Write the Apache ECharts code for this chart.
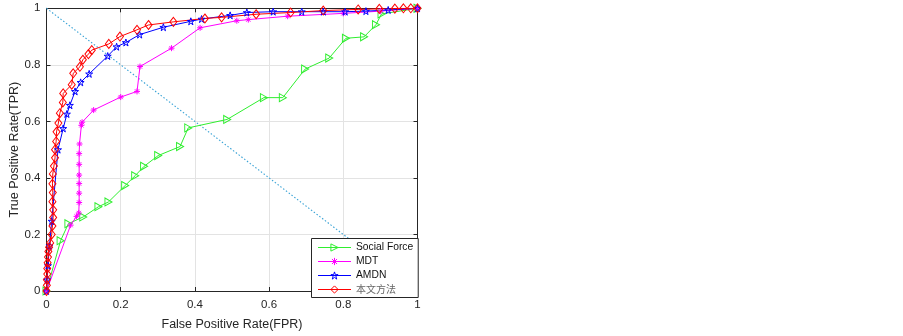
<!DOCTYPE html>
<html>
<head>
<meta charset="utf-8">
<script src="https://cdn.jsdelivr.net/npm/echarts@6/dist/echarts.min.js"></script>
<style>
  html, body { margin: 0; padding: 0; background: #fff; }
  #chart { width: 903px; height: 336px; }
</style>
</head>
<body>
<div id="chart"></div>
<script>
// values
const legendNames = ['Social Force', 'MDT', 'AMDN', '本文方法']
const seriesColors = ['#2fee2f', '#ff00ff', '#0000ff', '#ff0000']

const sfFPR = [0, 0.038, 0.059, 0.099, 0.14, 0.167, 0.212, 0.239, 0.263, 0.301, 0.36, 0.382, 0.487, 0.586, 0.637, 0.697, 0.762, 0.807, 0.856, 0.888, 0.903, 1]
const sfTPR = [0, 0.178, 0.238, 0.262, 0.298, 0.315, 0.373, 0.408, 0.441, 0.479, 0.511, 0.577, 0.607, 0.684, 0.684, 0.785, 0.824, 0.894, 0.899, 0.942, 0.98, 1]

const mdtFPR = [0, 0.065, 0.081, 0.087, 0.088, 0.088, 0.088, 0.088, 0.088, 0.088, 0.089, 0.094, 0.096, 0.127, 0.2, 0.244, 0.252, 0.337, 0.414, 0.513, 0.544, 0.65, 0.8, 0.9, 1]
const mdtTPR = [0, 0.233, 0.264, 0.276, 0.313, 0.346, 0.38, 0.41, 0.448, 0.486, 0.52, 0.586, 0.597, 0.64, 0.686, 0.706, 0.794, 0.859, 0.931, 0.956, 0.96, 0.972, 0.982, 0.99, 1]

const amdnFPR = [0, 0.002, 0.004, 0.008, 0.014, 0.031, 0.045, 0.055, 0.063, 0.077, 0.092, 0.115, 0.165, 0.189, 0.214, 0.251, 0.315, 0.389, 0.418, 0.495, 0.54, 0.611, 0.688, 0.746, 0.805, 0.861, 0.921, 1]
const amdnTPR = [0, 0.04, 0.09, 0.16, 0.247, 0.5, 0.575, 0.626, 0.657, 0.706, 0.738, 0.768, 0.831, 0.864, 0.879, 0.907, 0.933, 0.954, 0.962, 0.975, 0.985, 0.988, 0.988, 0.988, 0.988, 0.99, 0.994, 1]

const oursFPR = [0, 0.001, 0.001, 0.002, 0.002, 0.003, 0.004, 0.005, 0.007, 0.01, 0.014, 0.016, 0.018, 0.018, 0.016, 0.017, 0.016, 0.017, 0.02, 0.023, 0.023, 0.026, 0.027, 0.032, 0.036, 0.044, 0.045, 0.068, 0.072, 0.09, 0.098, 0.113, 0.122, 0.168, 0.198, 0.244, 0.275, 0.342, 0.427, 0.472, 0.565, 0.658, 0.746, 0.84, 0.897, 0.939, 0.962, 0.982, 1]
const oursTPR = [0, 0.02, 0.04, 0.06, 0.08, 0.1, 0.12, 0.14, 0.155, 0.17, 0.2, 0.23, 0.26, 0.287, 0.316, 0.348, 0.379, 0.414, 0.442, 0.471, 0.5, 0.529, 0.563, 0.594, 0.629, 0.667, 0.699, 0.73, 0.77, 0.793, 0.818, 0.838, 0.852, 0.874, 0.9, 0.924, 0.941, 0.952, 0.964, 0.968, 0.979, 0.985, 0.992, 0.996, 0.998, 0.999, 1, 1, 1]

const chanceFPR = [0, 1]
const chanceTPR = [1, 0]

const zip = (xs, ys) => xs.map((x, i) => [x, ys[i]])

const triRight = 'path://M0,0L10,5L0,10Z'
const asterisk = 'path://M5,0L5,10M0,5L10,5M1.5,1.5L8.5,8.5M8.5,1.5L1.5,8.5'
const pentagram = 'path://M50,0L61.2,34.6L97.6,34.5L68.1,55.9L79.4,90.5L50,69L20.6,90.5L31.9,55.9L2.4,34.5L38.8,34.6Z'
const symbols = [triRight, asterisk, pentagram, 'diamond']
const symbolSizes = [[7, 8], 6, 7, [7, 9]]

const font = 'Liberation Sans, Arial, sans-serif'
const axisColor = '#262626'
const hollow = 'rgba(255,255,255,0)'

const makeSeries = (i, data) => ({
  name: legendNames[i],
  type: 'line',
  color: seriesColors[i],
  data,
  symbol: symbols[i],
  symbolSize: symbolSizes[i],
  lineStyle: { color: seriesColors[i], width: 1 },
  itemStyle: { color: hollow, borderColor: seriesColors[i], borderWidth: 1 },
  emphasis: { disabled: true },
  animation: false
})

const chart = echarts.init(document.getElementById('chart'))

const xBase = {
  type: 'value', min: 0, max: 1, interval: 0.2,
  axisLine: { show: true, onZero: false, lineStyle: { color: axisColor, width: 1 } },
  axisTick: { show: true, inside: true, length: 4, lineStyle: { color: axisColor } },
  splitLine: { show: false }
}

const option = {
  backgroundColor: '#fff',
  grid: { left: 46.5, right: 485.5, top: 8.3, bottom: 37.7, containLabel: false },
  legend: {
    data: legendNames.map((name, i) => ({
      name,
      itemStyle: { color: hollow, borderColor: seriesColors[i], borderWidth: 1 }
    })),
    lineStyle: { width: 1 },
    orient: 'vertical',
    left: 311.5, top: 238.5,
    backgroundColor: '#fff',
    borderColor: axisColor, borderWidth: 1, borderRadius: 0,
    padding: [3, 5, 2, 6],
    itemWidth: 33, itemHeight: 9, itemGap: 2,
    textStyle: {
      fontFamily: font, fontSize: 10.3, color: '#111', lineHeight: 12,
      rich: { cn: { fontFamily: 'Noto Sans CJK SC', fontSize: 10, color: '#666', lineHeight: 12 } }
    },
    formatter: name => name === '本文方法' ? '{cn|' + name + '}' : name
  },
  xAxis: [
    Object.assign({}, xBase, {
      position: 'bottom',
      name: 'False Positive Rate(FPR)', nameLocation: 'middle', nameGap: 27,
      nameTextStyle: { fontFamily: font, fontSize: 12.5, color: axisColor },
      axisLabel: { fontFamily: font, fontSize: 11.5, color: axisColor, margin: 8,
        formatter: v => String(+v.toFixed(1)) },
      splitLine: { show: true, lineStyle: { color: '#e3e3e3', width: 1 } }
    }),
    Object.assign({}, xBase, { position: 'top', axisLabel: { show: false } })
  ],
  yAxis: [
    Object.assign({}, xBase, {
      position: 'left',
      name: 'True Positive Rate(TPR)', nameLocation: 'middle', nameGap: 22,
      nameTextStyle: { fontFamily: font, fontSize: 12.5, color: axisColor },
      axisLabel: { fontFamily: font, fontSize: 11.5, color: axisColor, margin: 6,
        formatter: v => String(+v.toFixed(1)) },
      splitLine: { show: true, lineStyle: { color: '#e3e3e3', width: 1 } }
    }),
    Object.assign({}, xBase, { position: 'right', axisLabel: { show: false } })
  ],
  series: [
    {
      name: 'chance', type: 'line', data: zip(chanceFPR, chanceTPR),
      symbol: 'none', silent: true, animation: false,
      lineStyle: { color: '#3aa3d6', width: 1.1, type: [1.5, 2] }
    },
    makeSeries(0, zip(sfFPR, sfTPR)),
    makeSeries(1, zip(mdtFPR, mdtTPR)),
    makeSeries(2, zip(amdnFPR, amdnTPR)),
    makeSeries(3, zip(oursFPR, oursTPR))
  ]
}

chart.setOption(option)
window.addEventListener('resize', () => chart.resize())
</script>
</body>
</html>
